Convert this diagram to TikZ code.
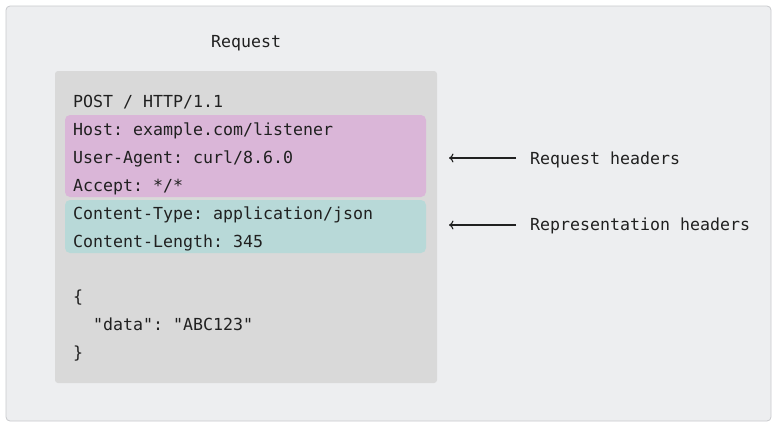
\documentclass[tikz,border=0pt]{standalone}
\usepackage{fontspec}
\setmonofont{DejaVu Sans Mono}
\usetikzlibrary{arrows.meta}
\definecolor{outerbg}{HTML}{EDEEF0}
\definecolor{outerline}{HTML}{C9CACD}
\definecolor{innerbg}{HTML}{D9D9D9}
\definecolor{pinkbg}{HTML}{DAB6D8}
\definecolor{tealbg}{HTML}{B8D9D8}
\definecolor{ink}{HTML}{202020}
\begin{document}
\begin{tikzpicture}[x=1pt,y=-1pt,
  code/.style={anchor=base west, inner sep=0pt, font=\ttfamily\fontsize{16.6}{18}\selectfont, text=ink},
  lbl/.style={code},
  pointer/.style={-{To[length=4.5pt,width=9pt]}, draw=ink, line width=1.2pt}]
\useasboundingbox (0,0) rectangle (778,429);
\fill[white] (0,0) rectangle (778,429);
\draw[fill=outerbg, draw=outerline, line width=0.8pt, rounded corners=4pt] (6,6) rectangle (771,421);
\fill[innerbg, rounded corners=3pt] (55,71) rectangle (437,383);
\fill[pinkbg, rounded corners=5pt] (65,115) rectangle (426,197);
\fill[tealbg, rounded corners=5pt] (65,200) rectangle (426,253);
\node[code] (title) at (211,47) {Request};
\node[code] (l1) at (73,107) {POST / HTTP/1.1};
\node[code] (l2) at (73,135) {Host: example.com/listener};
\node[code] (l3) at (73,163) {User-Agent: curl/8.6.0};
\node[code] (l4) at (73,191) {Accept: */*};
\node[code] (l5) at (73,219) {Content-Type: application/json};
\node[code] (l6) at (73,247) {Content-Length: 345};
\node[code] (l7) at (73,302) {\{};
\node[code] (l8) at (93,330) {"data": "ABC123"};
\node[code] (l9) at (73,358) {\}};
\node[lbl] (rh) at (530,164) {Request headers};
\node[lbl] (rp) at (530,230) {Representation headers};
\coordinate (rhs) at (516,158);
\coordinate (rhe) at (449,158);
\coordinate (rps) at (516,225);
\coordinate (rpe) at (449,225);
\draw[pointer] (rhs) -- (rhe);
\draw[pointer] (rps) -- (rpe);
\end{tikzpicture}
\end{document}
